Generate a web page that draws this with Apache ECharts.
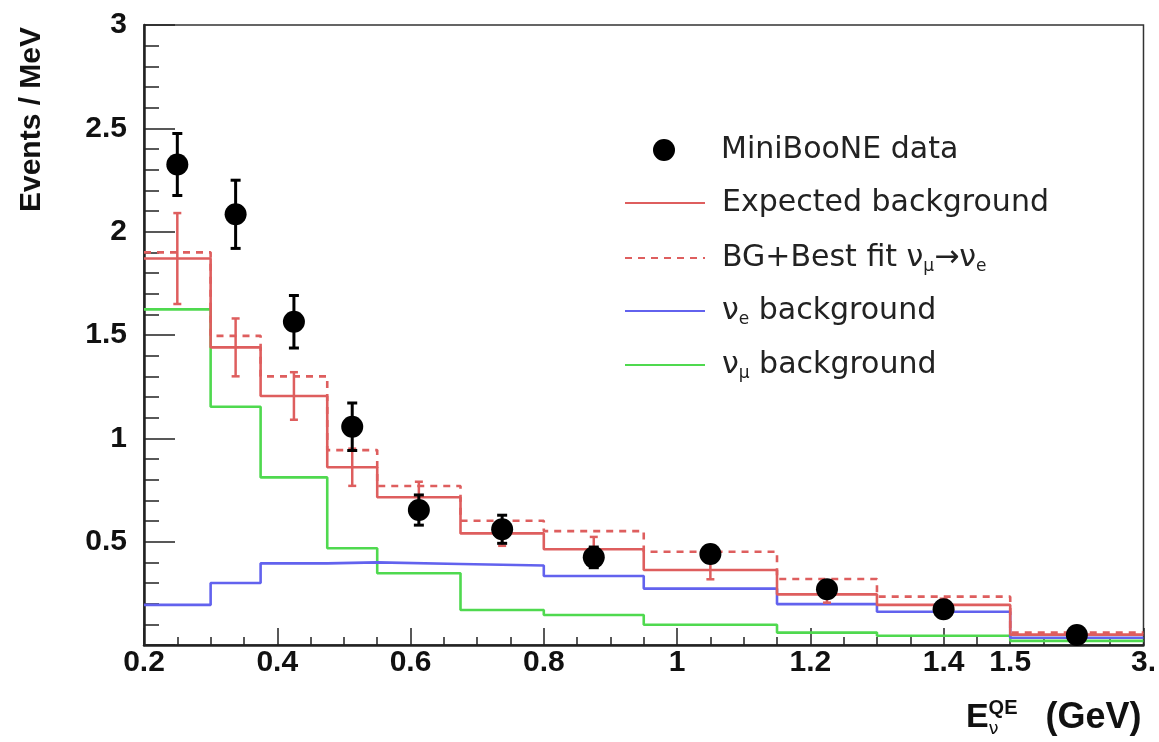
<!DOCTYPE html>
<html>
<head>
<meta charset="utf-8">
<script src="https://cdn.jsdelivr.net/npm/echarts@6/dist/echarts.min.js"></script>
<style>
html,body{margin:0;padding:0;background:#fff;}
#chart{width:1159px;height:742px;}
</style>
</head>
<body>
<div id="chart"></div>
<script>
// ---- data ----
const binEdges = [0.2, 0.3, 0.375, 0.475, 0.55, 0.675, 0.8, 0.95, 1.15, 1.3, 1.5, 3.0];
const expectedBg    = [1.870, 1.440, 1.205, 0.860, 0.715, 0.540, 0.463, 0.363, 0.245, 0.194, 0.050];
const expectedBgErr = [0.220, 0.140, 0.115, 0.090, 0.075, 0.060, 0.060, 0.045, 0.040, 0.030, 0.010];
const bestFitBg     = [1.900, 1.496, 1.300, 0.943, 0.769, 0.601, 0.551, 0.451, 0.319, 0.234, 0.060];
const nueBg         = [0.194, 0.300, 0.395, 0.400, 0.392, 0.385, 0.334, 0.273, 0.198, 0.161, 0.035];
const numuBg        = [1.624, 1.153, 0.811, 0.468, 0.347, 0.169, 0.145, 0.098, 0.060, 0.045, 0.020];
const dataX   = [0.25, 0.3375, 0.425, 0.5125, 0.6125, 0.7375, 0.875, 1.05, 1.225, 1.4, 2.25];
const dataY   = [2.325, 2.084, 1.564, 1.056, 0.653, 0.560, 0.424, 0.440, 0.270, 0.173, 0.048];
const dataErr = [0.150, 0.165, 0.127, 0.115, 0.073, 0.068, 0.050, 0.040, 0.030, 0.020, 0.010];
const xTickValues = [0.2, 0.4, 0.6, 0.8, 1.0, 1.2, 1.4, 1.5, 3.0];
const xTickLabels = ['0.2', '0.4', '0.6', '0.8', '1', '1.2', '1.4', '1.5', '3.'];

// broken x axis: linear to 1.5 GeV, then 1.5-3.0 GeV compressed into 0.2 axis units
const BREAK = 1.5, COMPRESS = 0.2 / 1.5;
function toAxis(x) { return x <= BREAK ? x : BREAK + (x - BREAK) * COMPRESS; }

const RED = '#de5e5e', BLUE = '#6262ee', GREEN = '#4fd94f';

function stepData(vals) {
  const pts = vals.map((v, i) => [toAxis(binEdges[i]), v]);
  pts.push([toAxis(binEdges[binEdges.length - 1]), vals[vals.length - 1]]);
  return pts;
}
function errData(xs, ys, es) {
  return xs.map((x, i) => [toAxis(x), ys[i] - es[i], ys[i] + es[i]]);
}
function errRenderer(color, width, cap) {
  return function (params, api) {
    const x = api.value(0);
    const lo = api.coord([x, api.value(1)]);
    const hi = api.coord([x, api.value(2)]);
    const st = { stroke: color, lineWidth: width };
    return { type: 'group', children: [
      { type: 'line', shape: { x1: lo[0], y1: lo[1], x2: hi[0], y2: hi[1] }, style: st },
      { type: 'line', shape: { x1: lo[0] - cap, y1: lo[1], x2: lo[0] + cap, y2: lo[1] }, style: st },
      { type: 'line', shape: { x1: hi[0] - cap, y1: hi[1], x2: hi[0] + cap, y2: hi[1] }, style: st }
    ]};
  };
}

const legendNames = {
  'MiniBooNE data': '{n|MiniBooNE data}',
  'Expected background': '{n|Expected background}',
  'BG+Best fit νμ→νe': '{n|BG+Best fit ν}{s|μ}{n|→ν}{s|e}',
  'νe background': '{n|ν}{s|e}{n| background}',
  'νμ background': '{n|ν}{s|μ}{n| background}'
};
const legendRich = {
  n: { fontFamily: 'DejaVu Sans', fontSize: 30, color: '#222', lineHeight: 34, verticalAlign: 'middle' },
  s: { fontFamily: 'DejaVu Sans', fontSize: 17, color: '#222', lineHeight: 14, verticalAlign: 'bottom' }
};
const legendRowsY = [152, 205, 260, 313, 367];
const legendOrder = ['MiniBooNE data', 'Expected background', 'BG+Best fit νμ→νe', 'νe background', 'νμ background'];
const legends = legendOrder.map((name, i) => ({
  left: i === 0 ? 653 : 624, top: legendRowsY[i] - 17, padding: 0,
  itemWidth: 80, itemHeight: 22, selectedMode: false,
  itemStyle: i === 0 ? { color: '#000', opacity: 1 } : { opacity: 0 },
  data: [i === 0 ? { name: name, icon: 'circle' } : name],
  formatter: n => legendNames[n],
  textStyle: { padding: [0, 0, 0, 12], rich: legendRich }
}));

const tickFont = { fontFamily: 'Liberation Sans', fontWeight: 'bold', fontSize: 30, color: '#111' };

const option = {
  animation: false,
  backgroundColor: '#fff',
  grid: { left: 144, right: 14, top: 25, bottom: 97, show: true, borderColor: '#333', borderWidth: 1.5 },
  legend: legends,
  xAxis: [
    { type: 'value', min: 0.2, max: 1.7, interval: 0.05,
      axisLine: { show: true, lineStyle: { color: '#222', width: 2.5 } },
      axisTick: { show: true, inside: true, length: 8, lineStyle: { color: '#222', width: 1.5 } },
      axisLabel: { show: false }, splitLine: { show: false } },
    { type: 'value', min: 0.2, max: 1.7, position: 'bottom',
      axisLine: { show: false },
      axisTick: { show: true, inside: true, length: 17, customValues: xTickValues.map(toAxis), lineStyle: { color: '#222', width: 1.5 } },
      axisLabel: Object.assign({ show: true, margin: 3, customValues: xTickValues.map(toAxis),
        formatter: v => { let b = 0; xTickValues.forEach((t, i) => { if (Math.abs(toAxis(t) - v) < Math.abs(toAxis(xTickValues[b]) - v)) b = i; }); return xTickLabels[b]; } }, tickFont),
      splitLine: { show: false },
      name: '{e|E}{nu|ν}{sup|QE}{g|(GeV)}', nameLocation: 'end', nameGap: -2,
      nameTextStyle: { align: 'right', verticalAlign: 'top', padding: [53, 0, 0, 0],
        rich: {
          e: { align: 'left', fontFamily: 'Liberation Sans', fontWeight: 'bold', fontSize: 34, color: '#111', lineHeight: 40, verticalAlign: 'middle' },
          nu: { align: 'left', fontFamily: 'DejaVu Sans', fontSize: 18, color: '#111', lineHeight: 18, verticalAlign: 'bottom', width: 0 },
          sup: { align: 'left', fontFamily: 'Liberation Sans', fontWeight: 'bold', fontSize: 20, color: '#111', lineHeight: 18, verticalAlign: 'top' },
          g: { align: 'left', fontFamily: 'Liberation Sans', fontWeight: 'bold', fontSize: 36, color: '#111', lineHeight: 40, verticalAlign: 'middle', padding: [0, 0, 0, 28] }
        } } }
  ],
  yAxis: {
    type: 'value', min: 0, max: 3, interval: 0.5,
    axisLine: { show: true, lineStyle: { color: '#222', width: 2.5 } },
    axisTick: { show: true, inside: true, length: 31, lineStyle: { color: '#222', width: 1.5 } },
    minorTick: { show: true, splitNumber: 5, length: 15, lineStyle: { color: '#222', width: 1.5 } },
    axisLabel: Object.assign({ margin: 17, formatter: v => (v === 0 ? '' : String(v)) }, tickFont),
    splitLine: { show: false }, minorSplitLine: { show: false },
    name: 'Events / MeV', nameLocation: 'end', nameRotate: 90, nameGap: -2,
    nameTextStyle: { align: 'right', verticalAlign: 'bottom', padding: [0, 0, 97, 0],
      fontFamily: 'Liberation Sans', fontWeight: 'bold', fontSize: 30, color: '#111' }
  },
  series: [
    { name: 'νμ background', type: 'line', step: 'end', data: stepData(numuBg), symbol: 'none',
      lineStyle: { color: GREEN, width: 2.6 }, itemStyle: { color: GREEN }, z: 2 },
    { name: 'νe background', type: 'line', step: 'end', data: stepData(nueBg), symbol: 'none',
      lineStyle: { color: BLUE, width: 2.6 }, itemStyle: { color: BLUE }, z: 3 },
    { name: 'Expected background', type: 'line', step: 'end', data: stepData(expectedBg), symbol: 'none',
      lineStyle: { color: RED, width: 2.6 }, itemStyle: { color: RED }, z: 4 },
    { name: 'BG+Best fit νμ→νe', type: 'line', step: 'end', data: stepData(bestFitBg), symbol: 'none',
      lineStyle: { color: RED, width: 2.6, type: [7, 6] }, itemStyle: { color: RED }, z: 4 },
    { name: 'Expected background error', type: 'custom', data: errData(dataX, expectedBg, expectedBgErr),
      encode: { x: 0, y: [1, 2] }, renderItem: errRenderer(RED, 2.5, 4), z: 5 },
    { name: 'MiniBooNE data error', type: 'custom', data: errData(dataX, dataY, dataErr),
      encode: { x: 0, y: [1, 2] }, renderItem: errRenderer('#000', 3, 5), z: 6 },
    { name: 'MiniBooNE data', type: 'scatter', data: dataX.map((x, i) => [toAxis(x), dataY[i]]),
      symbol: 'circle', symbolSize: 22, itemStyle: { color: '#000', opacity: 1 }, z: 7 }
  ]
};
const chart = echarts.init(document.getElementById('chart'), null, { renderer: 'canvas' });
chart.setOption(option);
</script>
</body>
</html>
